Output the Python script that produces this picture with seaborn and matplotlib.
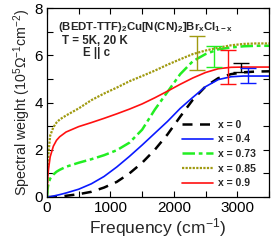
import matplotlib
matplotlib.use("Agg")
import matplotlib.pyplot as plt
import seaborn as sns
import numpy as np
from matplotlib.ticker import MultipleLocator

# ---- data ----
freq = [0, 10, 25, 50, 100, 150, 200, 300, 500, 700, 900, 1100, 1300, 1500,
        1700, 1900, 2100, 2300, 2500, 2700, 2900, 3100, 3300, 3500]
sw_x0 = [0, 0, 0, 0, 0.005, 0.01, 0.02, 0.05, 0.12, 0.22, 0.4, 0.64, 1.0, 1.45,
         2.0, 2.65, 3.4, 4.12, 4.68, 5.03, 5.2, 5.28, 5.31, 5.32]
sw_x04 = [0, 0, 0.005, 0.01, 0.04, 0.07, 0.1, 0.17, 0.33, 0.56, 0.87, 1.27, 1.72, 2.2,
          2.7, 3.2, 3.75, 4.22, 4.67, 4.97, 5.09, 5.12, 5.12, 5.12]
sw_x073 = [0, 0.35, 0.6, 0.78, 0.95, 1.07, 1.15, 1.28, 1.45, 1.6, 1.77, 1.98, 2.3, 2.85,
           3.7, 4.45, 5.2, 5.75, 6.05, 6.25, 6.33, 6.38, 6.4, 6.4]
sw_x085 = [0, 1.0, 1.9, 2.6, 2.95, 3.15, 3.28, 3.45, 3.75, 4.1, 4.38, 4.63, 4.9, 5.12,
           5.35, 5.6, 5.83, 6.05, 6.2, 6.32, 6.42, 6.48, 6.5, 6.5]
sw_x09 = [0, 0.8, 1.2, 1.7, 2.15, 2.4, 2.55, 2.75, 2.98, 3.15, 3.33, 3.52, 3.72, 3.94,
          4.2, 4.48, 4.77, 5.04, 5.27, 5.43, 5.49, 5.5, 5.5, 5.5]

labels = ["x = 0", "x = 0.4", "x = 0.73", "x = 0.85", "x = 0.9"]

err_freq = [3056, 3171, 2627, 2365, 2847]
err_val = [5.48, 5.14, 5.95, 6.09, 5.51]
err_size = [0.2, 0.32, 0.46, 0.73, 0.72]

# ---- style ----
sns.set_style("ticks")
plt.rcParams['font.family'] = ['Liberation Sans', 'DejaVu Sans']
plt.rcParams['mathtext.fontset'] = 'custom'
plt.rcParams['mathtext.rm'] = 'Liberation Sans'
plt.rcParams['mathtext.it'] = 'Liberation Sans'
plt.rcParams['mathtext.bf'] = 'Liberation Sans:bold'

colors = ["black", "#0a1aff", "#22ee22", "#a09a10", "#ff1010"]
styles = [dict(linestyle=(0, (4, 3)), linewidth=1.8),
          dict(linestyle="-", linewidth=1.2),
          dict(linestyle=(0, (5, 1.5, 1.5, 1.5)), linewidth=1.8),
          dict(linestyle=(0, (1, 0.6)), linewidth=1.6),
          dict(linestyle="-", linewidth=1.2)]
series = [sw_x0, sw_x04, sw_x073, sw_x085, sw_x09]

fig = plt.figure(figsize=(2.73, 2.46), dpi=100)
ax = fig.add_axes([47/273, 1 - 197/246, 222/273, 189/246])

for ys, lab, c, st in zip(series, labels, colors, styles):
    sns.lineplot(x=freq, y=ys, ax=ax, color=c, label=lab, **st)

for fx, fy, fe, c in zip(err_freq, err_val, err_size, colors):
    ax.errorbar(fx, fy, yerr=fe, fmt="none", ecolor=c, elinewidth=1.0,
                capsize=5.5, capthick=1.0)

ax.set_xlim(0, 3500)
ax.set_ylim(0, 8)
ax.xaxis.set_major_locator(MultipleLocator(1000))
ax.xaxis.set_minor_locator(MultipleLocator(500))
ax.yaxis.set_major_locator(MultipleLocator(2))
ax.yaxis.set_minor_locator(MultipleLocator(1))
ax.tick_params(which="both", direction="in", top=True, right=True,
               width=0.8, colors="black", labelsize=11, pad=3)
ax.tick_params(which="major", length=4)
ax.tick_params(which="minor", length=4)
for sp in ax.spines.values():
    sp.set_linewidth(0.9)
    sp.set_color("black")

ax.set_xlabel("Frequency (cm$^{-1}$)", fontsize=12.5, labelpad=1)
ax.set_ylabel("Spectral weight (10$^{5}$$\\Omega^{-1}$cm$^{-2}$)", fontsize=10.3, labelpad=1)

ax.text(0.05, 0.90, "(BEDT-TTF)$_{\\mathbf{2}}$Cu[N(CN)$_{\\mathbf{2}}$]Br$_{\\mathbf{x}}$Cl$_{\\mathbf{1-x}}$",
        transform=ax.transAxes, fontsize=8.2, fontweight="bold", va="center", ha="left")
ax.text(0.068, 0.825, "T = 5K, 20 K", transform=ax.transAxes, fontsize=8.3,
        fontweight="bold", va="center", ha="left")
ax.text(0.162, 0.762, "E || c", transform=ax.transAxes, fontsize=8.3,
        fontweight="bold", va="center", ha="left")

leg = ax.legend(loc="upper left", bbox_to_anchor=(0.61, 0.41), frameon=False,
                handlelength=2.9, handletextpad=0.5, labelspacing=0.45,
                borderaxespad=0, borderpad=0,
                prop={"weight": "bold", "size": 7.5, "family": "Liberation Sans"})

fig.savefig("out.png", dpi=100)
